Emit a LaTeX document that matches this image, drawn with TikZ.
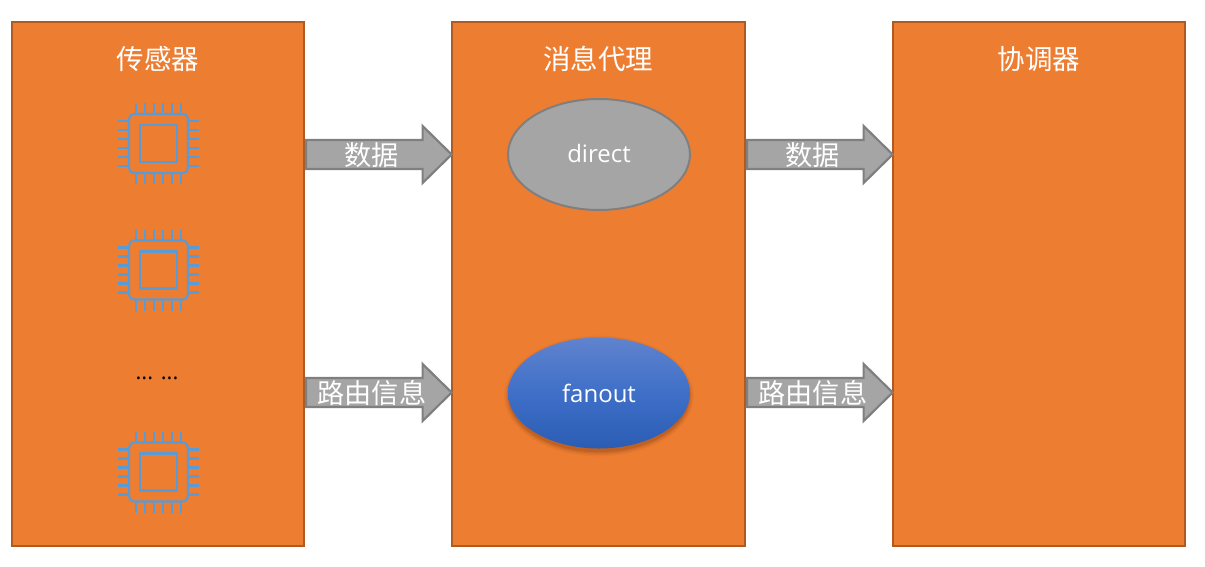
\documentclass[tikz,border=0pt]{standalone}
\usepackage{fontspec}
\setmainfont{Open Sans}
\newfontfamily\cjk{Noto Sans CJK SC}
\usetikzlibrary{calc,shapes.geometric}
\definecolor{boxfill}{HTML}{ED7D31}
\definecolor{boxline}{HTML}{AE5A21}
\definecolor{greyfill}{HTML}{A5A5A5}
\definecolor{greyline}{HTML}{7F7F7F}
\definecolor{chipblue}{HTML}{5B9BD5}
\definecolor{fantop}{HTML}{5F83CE}
\definecolor{fanmid}{HTML}{3F6FC8}
\definecolor{fanbot}{HTML}{2B5DB4}
\definecolor{shadowbrown}{HTML}{5A2A08}
\tikzset{
  x=1pt,y=-1pt,
  panel/.style={draw=boxline,line width=2pt,fill=boxfill,rectangle,inner sep=0pt,minimum width=292pt,minimum height=524pt},
  title/.style={text=white,font=\cjk\fontsize{27.5}{30}\selectfont,inner sep=0pt},
  flowlabel/.style={text=white,font=\cjk\fontsize{27.2}{30}\selectfont,inner sep=0pt},
  oval/.style={ellipse,minimum width=182pt,minimum height=111pt,inner sep=0pt,text=white,font=\fontsize{24}{28}\selectfont},
  blockarrow/.style={draw=greyline,line width=2.2pt,fill=greyfill,line join=miter},
  chipline/.style={draw=chipblue,line width=2.1pt},
  chip/.pic={
    \draw[chipline,rounded corners=5pt] (-29.5,-29.5) rectangle (29.5,29.5);
    \draw[chipline] (-18.5,-18.5) rectangle (18.5,18.5);
    \foreach \k in {-22.5,-13.5,-4.5,4.5,13.5,22.5}{
      \draw[chipline] (\k,-40.5) -- (\k,-29.5);
      \draw[chipline] (\k,29.5) -- (\k,40.5);
      \draw[chipline] (-40.5,\k) -- (-29.5,\k);
      \draw[chipline] (29.5,\k) -- (40.5,\k);
    }
  }
}
% block arrow from the east side of #1 to the west side of #2 at height #3
\newcommand{\flowarrow}[5]{%
  \path let \p1=(#1.east), \p2=(#2.west) in
    coordinate (#5s) at (\x1+1pt,#3)
    coordinate (#5t) at (\x2+0.6pt,#3);
  \draw[blockarrow] let \p1=(#5s), \p2=(#5t) in
    (\x1,\y1+14.5pt) -- (\x2-29pt,\y1+14.5pt) -- (\x2-29pt,\y1+28.5pt) -- (\x2,\y1)
    -- (\x2-29pt,\y1-28.5pt) -- (\x2-29pt,\y1-14.5pt) -- (\x1,\y1-14.5pt) -- cycle;
  \path let \p1=(#5s), \p2=(#5t) in
    node[flowlabel] (#5l) at ({(\x1+\x2-14pt)/2},\y1-0.6pt) {#4};
}
\begin{document}
\begin{tikzpicture}
\useasboundingbox (0,0) rectangle (1205,566);
\node[panel] (sensor) at (158,284) {};
\node[panel,minimum width=293pt] (broker) at (598.5,284) {};
\node[panel] (coord) at (1039,284) {};
\node[title] (t1) at (158,59) {传感器};
\node[title] (t2) at (598,59) {消息代理};
\node[title] (t3) at (1039,59) {协调器};
\pic at (158.5,143.5) {chip};
\pic at (158.5,270) {chip};
\pic at (158.5,472) {chip};
\node[inner sep=0pt,text=black,font=\fontsize{22}{24}\selectfont] (dots) at (157,378) {... ...};
\node[oval,draw=greyline,line width=2pt,fill=greyfill,text depth=1.5pt] (direct) at (599,154.5) {direct};
\foreach \g/\o in {7/0.04,5/0.07,3/0.10,1/0.14}{
  \fill[shadowbrown,opacity=\o] (599,396) ellipse ({90+\g*0.7} and {55.5+\g*0.7});
}
\node[oval,top color=fantop,bottom color=fanbot,middle color=fanmid] (fanout) at (599,393) {fanout};
\flowarrow{sensor}{broker}{154.5}{数据}{a}
\flowarrow{sensor}{broker}{392.5}{路由信息}{b}
\flowarrow{broker}{coord}{154.5}{数据}{c}
\flowarrow{broker}{coord}{392.5}{路由信息}{d}
\end{tikzpicture}
\end{document}
